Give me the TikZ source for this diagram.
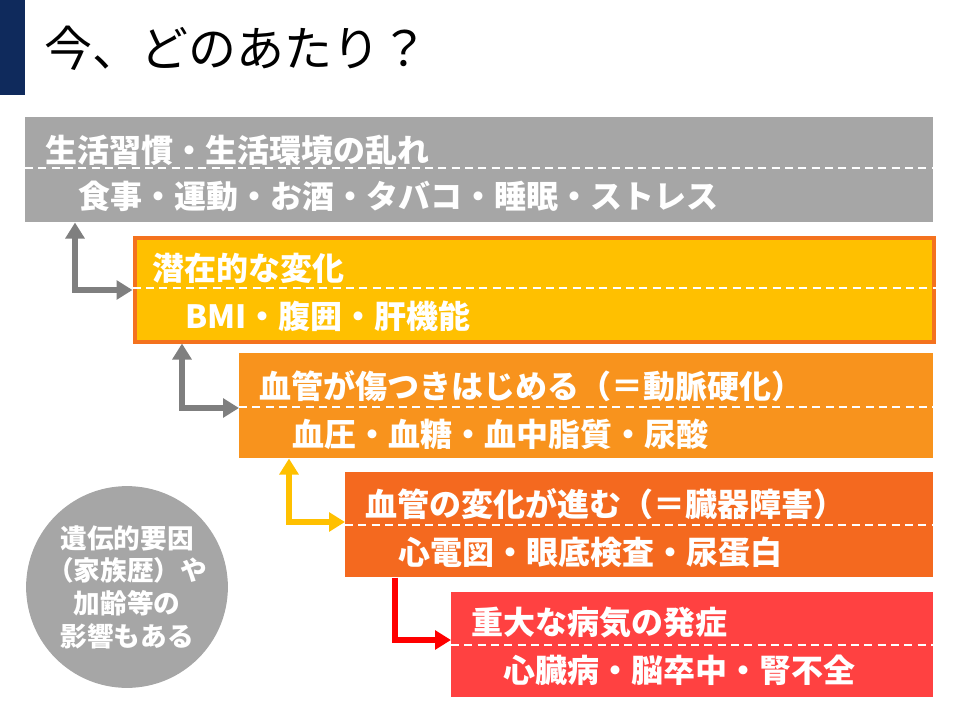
\documentclass[tikz,border=0pt]{standalone}
\usepackage{fontspec}
\newfontfamily\cjk{Noto Sans CJK JP}
\usetikzlibrary{arrows.meta}
\definecolor{navy}{HTML}{0F2A5C}
\definecolor{boxgray}{HTML}{A6A6A6}
\definecolor{argray}{HTML}{7F7F7F}
\definecolor{gold}{HTML}{FFC000}
\definecolor{rim}{HTML}{F4721E}
\definecolor{orangeA}{HTML}{F8931D}
\definecolor{orangeB}{HTML}{F4691F}
\definecolor{redbox}{HTML}{FF4141}
\definecolor{redar}{HTML}{FF0000}
\newlength\pxu
\setlength\pxu{0.75pt}
\tikzset{
  stage/.style={anchor=north west, inner sep=0pt, minimum height=105\pxu, text=white},
  head/.style={anchor=west, inner sep=0pt, text=white, font=\cjk\bfseries\fontsize{24}{26}\selectfont},
  dashsep/.style={white, line width=1pt, dash pattern=on 6pt off 4pt},
  elbow/.style={line width=4pt, -{Triangle[length=12pt,width=14pt]}},
  both/.style={elbow, {Triangle[length=12pt,width=14pt]}-{Triangle[length=12pt,width=14pt]}}
}
\begin{document}
\begin{tikzpicture}[x=0.75pt,y=-0.75pt]
\useasboundingbox (0,0) rectangle (960,720);
\fill[navy] (0,0) rectangle (25,95);
\node[anchor=west, inner sep=0pt, font=\cjk\fontsize{36}{38}\selectfont] (title) at (44,48) {今、どのあたり？};
% stage boxes
\node[stage, fill=boxgray, minimum width=908\pxu] (life) at (25,117) {};
\node[stage, fill=gold, draw=rim, line width=3pt, minimum width=799\pxu, minimum height=103\pxu] (hidden) at (132.5,236.5) {};
\node[stage, fill=orangeA, minimum width=694\pxu] (vessel) at (239,353) {};
\node[stage, fill=orangeB, minimum width=588\pxu] (organ) at (345,472) {};
\node[stage, fill=redbox, minimum width=482\pxu] (onset) at (451,592) {};
\foreach \b/\y in {life/168, hidden/288, vessel/407, organ/525, onset/645}
  \draw[dashsep] (\b.west |- 0,\y) -- (\b.east |- 0,\y);
\node[head] (lifeH) at (45,150) {生活習慣・生活環境の乱れ};
\node[head] (lifeS) at (78,196) {食事・運動・お酒・タバコ・睡眠・ストレス};
\node[head] (hiddenH) at (152,268) {潜在的な変化};
\node[head] (hiddenS) at (185,316) {BMI・腹囲・肝機能};
\node[head] (vesselH) at (259,386) {血管が傷つきはじめる（＝動脈硬化）};
\node[head] (vesselS) at (292,434) {血圧・血糖・血中脂質・尿酸};
\node[head] (organH) at (365,504) {血管の変化が進む（＝臓器障害）};
\node[head] (organS) at (398,552) {心電図・眼底検査・尿蛋白};
\node[head] (onsetH) at (471,623) {重大な病気の発症};
\node[head] (onsetS) at (503,670) {心臓病・脳卒中・腎不全};
% elbow arrows
\coordinate (k1) at (75,290);
\coordinate (k2) at (182,408);
\coordinate (k3) at (289,522);
\coordinate (k4) at (395,640);
\draw[both, argray] (life.south -| k1) |- (hidden.west |- k1);
\draw[both, argray] (hidden.south -| k2) |- (vessel.west |- k2);
\draw[both, gold] (vessel.south -| k3) |- (organ.west |- k3);
\draw[elbow, redar] (organ.south -| k4) |- (onset.west |- k4);
% side note
\node[circle, fill=boxgray, minimum size=200\pxu, inner sep=0pt, text=white, align=center,
  font=\cjk\bfseries\fontsize{20}{24.5}\selectfont] (heredity) at (127,587) {遺伝的要因\\（家族歴）や\\加齢等の\\影響もある};
\end{tikzpicture}
\end{document}
